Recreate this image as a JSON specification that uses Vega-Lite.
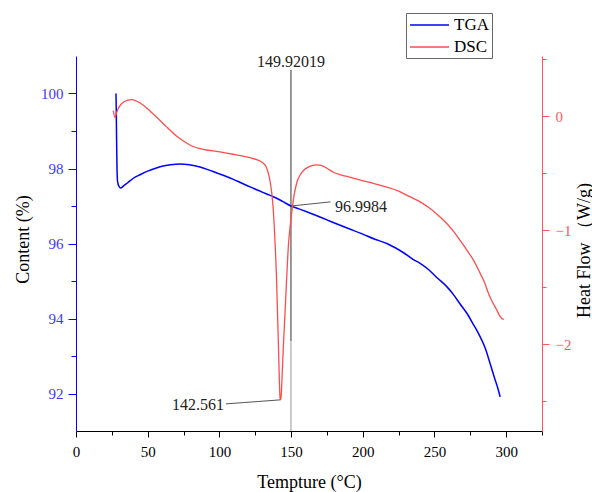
{
  "$schema": "https://vega.github.io/schema/vega-lite/v6.json",
  "width": 466,
  "height": 375,
  "autosize": {"type": "none"},
  "padding": {"left": 76, "top": 56, "right": 50, "bottom": 61},
  "background": "white",
  "config": {
    "font": "Liberation Serif",
    "view": {"stroke": null},
    "axis": {"labelFont": "Liberation Serif", "titleFont": "Liberation Serif", "titleFontWeight": "normal", "grid": false, "labelFontSize": 15, "titleFontSize": 18, "titleColor": "#000", "labelFlush": false}
  },
  "layer": [
    {
      "resolve": {"axis": {"x": "independent", "y": "independent"}},
      "layer": [
        {
          "data": {"values": [
            {"series": "TGA", "t": 27.9, "v": 100.0},
            {"series": "TGA", "t": 28.1, "v": 99.5},
            {"series": "TGA", "t": 28.3, "v": 98.8},
            {"series": "TGA", "t": 28.6, "v": 98.0},
            {"series": "TGA", "t": 29.0, "v": 97.65},
            {"series": "TGA", "t": 30.0, "v": 97.52},
            {"series": "TGA", "t": 31.2, "v": 97.48},
            {"series": "TGA", "t": 33.0, "v": 97.53},
            {"series": "TGA", "t": 36.0, "v": 97.62},
            {"series": "TGA", "t": 40.0, "v": 97.74},
            {"series": "TGA", "t": 45.0, "v": 97.84},
            {"series": "TGA", "t": 50.0, "v": 97.93},
            {"series": "TGA", "t": 55.0, "v": 98.0},
            {"series": "TGA", "t": 60.0, "v": 98.06},
            {"series": "TGA", "t": 66.0, "v": 98.1},
            {"series": "TGA", "t": 72.6, "v": 98.12},
            {"series": "TGA", "t": 79.0, "v": 98.1},
            {"series": "TGA", "t": 86.5, "v": 98.04},
            {"series": "TGA", "t": 92.0, "v": 97.97},
            {"series": "TGA", "t": 98.2, "v": 97.88},
            {"series": "TGA", "t": 104.0, "v": 97.8},
            {"series": "TGA", "t": 109.8, "v": 97.71},
            {"series": "TGA", "t": 115.0, "v": 97.62},
            {"series": "TGA", "t": 121.4, "v": 97.51},
            {"series": "TGA", "t": 127.0, "v": 97.42},
            {"series": "TGA", "t": 133.0, "v": 97.32},
            {"series": "TGA", "t": 138.0, "v": 97.24},
            {"series": "TGA", "t": 142.3, "v": 97.16},
            {"series": "TGA", "t": 146.0, "v": 97.08},
            {"series": "TGA", "t": 149.92, "v": 97.0},
            {"series": "TGA", "t": 155.0, "v": 96.93},
            {"series": "TGA", "t": 160.0, "v": 96.86},
            {"series": "TGA", "t": 168.0, "v": 96.74},
            {"series": "TGA", "t": 175.0, "v": 96.63},
            {"series": "TGA", "t": 182.0, "v": 96.52},
            {"series": "TGA", "t": 190.0, "v": 96.4},
            {"series": "TGA", "t": 200.0, "v": 96.25},
            {"series": "TGA", "t": 208.0, "v": 96.12},
            {"series": "TGA", "t": 216.8, "v": 96.0},
            {"series": "TGA", "t": 222.0, "v": 95.9},
            {"series": "TGA", "t": 229.0, "v": 95.74},
            {"series": "TGA", "t": 235.3, "v": 95.57},
            {"series": "TGA", "t": 240.0, "v": 95.47},
            {"series": "TGA", "t": 246.0, "v": 95.3},
            {"series": "TGA", "t": 252.0, "v": 95.08},
            {"series": "TGA", "t": 258.6, "v": 94.85},
            {"series": "TGA", "t": 263.0, "v": 94.65},
            {"series": "TGA", "t": 268.0, "v": 94.38},
            {"series": "TGA", "t": 272.6, "v": 94.14},
            {"series": "TGA", "t": 277.0, "v": 93.85},
            {"series": "TGA", "t": 281.9, "v": 93.51},
            {"series": "TGA", "t": 285.5, "v": 93.2},
            {"series": "TGA", "t": 288.8, "v": 92.8},
            {"series": "TGA", "t": 292.0, "v": 92.4},
            {"series": "TGA", "t": 294.5, "v": 92.1},
            {"series": "TGA", "t": 295.8, "v": 91.91}
          ]},
          "mark": {"type": "line", "strokeWidth": 1.5, "interpolate": "monotone"},
          "encoding": {
            "x": {"field": "t", "type": "quantitative", "scale": {"domain": [0, 325], "nice": false, "zero": false},
              "axis": {"orient": "bottom", "title": "Tempture (°C)", "values": [0, 50, 100, 150, 200, 250, 300],
                "tickSize": 6, "domainColor": "#000", "tickColor": "#000", "labelColor": "#000", "labelPadding": 7,
                "titleBaseline": "alphabetic", "titleY": 56}},
            "y": {"field": "v", "type": "quantitative", "scale": {"domain": [91, 101], "nice": false, "zero": false},
              "axis": {"orient": "left", "title": "Content (%)", "values": [92, 94, 96, 98, 100],
                "tickSize": 8, "domainColor": "#0000ff", "tickColor": "#0000ff", "labelColor": "#3a3aff", "labelPadding": 5,
                "titleX": -53, "titleY": 183, "titleBaseline": "middle"}},
            "color": {"field": "series", "type": "nominal",
              "scale": {"domain": ["TGA", "DSC"], "range": ["#0000ff", "#ff4d4d"]},
              "legend": {"orient": "none", "legendX": 330, "legendY": -43, "title": null, "symbolType": "M-1,0L3.875,0", "symbolSize": 256, "symbolStrokeWidth": 1.5,
                "labelFont": "Liberation Serif", "labelFontSize": 17, "labelColor": "#000", "labelOffset": 27, "strokeColor": "#666", "fillColor": "white", "padding": 3, "rowPadding": 5}}
          }
        },
        {
          "data": {"values": [{"t": 100, "v": 96}]},
          "mark": {"type": "point", "opacity": 0},
          "encoding": {
            "x": {"field": "t", "type": "quantitative",
              "axis": {"orient": "bottom", "title": null, "values": [25, 75, 125, 175, 225, 275, 325], "labels": false, "domain": false, "tickSize": 4, "tickColor": "#000"}},
            "y": {"field": "v", "type": "quantitative",
              "axis": {"orient": "left", "title": null, "values": [93, 95, 97, 99], "labels": false, "domain": false, "tickSize": 5, "tickColor": "#0000ff"}}
          }
        },
        {
          "data": {"values": [{"t": 149.92, "top": 100.63, "bottom": 93.4}]},
          "mark": {"type": "rule", "color": "#333", "strokeWidth": 1},
          "encoding": {
            "x": {"field": "t", "type": "quantitative", "axis": null},
            "y": {"field": "top", "type": "quantitative", "axis": null},
            "y2": {"field": "bottom"}
          }
        },
        {
          "data": {"values": [{"t": 149.92, "top": 93.4, "bottom": 91.0}]},
          "mark": {"type": "rule", "color": "#999", "strokeWidth": 1},
          "encoding": {
            "x": {"field": "t", "type": "quantitative", "axis": null},
            "y": {"field": "top", "type": "quantitative", "axis": null},
            "y2": {"field": "bottom"}
          }
        },
        {
          "data": {"values": [{"t1": 149.92, "v1": 97.0, "t2": 177.5, "v2": 97.11}]},
          "mark": {"type": "rule", "color": "#555", "strokeWidth": 1},
          "encoding": {
            "x": {"field": "t1", "type": "quantitative", "axis": null},
            "y": {"field": "v1", "type": "quantitative", "axis": null},
            "x2": {"field": "t2"},
            "y2": {"field": "v2"}
          }
        },
        {
          "data": {"values": [{"t": 149.92, "v": 100.7, "label": "149.92019"}]},
          "mark": {"type": "text", "align": "center", "baseline": "alphabetic", "fontSize": 16, "font": "Liberation Serif", "color": "#222"},
          "encoding": {
            "x": {"field": "t", "type": "quantitative", "axis": null},
            "y": {"field": "v", "type": "quantitative", "axis": null},
            "text": {"field": "label"}
          }
        },
        {
          "data": {"values": [{"t": 180.7, "v": 96.85, "label": "96.9984"}]},
          "mark": {"type": "text", "align": "left", "baseline": "alphabetic", "fontSize": 16, "font": "Liberation Serif", "color": "#222"},
          "encoding": {
            "x": {"field": "t", "type": "quantitative", "axis": null},
            "y": {"field": "v", "type": "quantitative", "axis": null},
            "text": {"field": "label"}
          }
        }
      ]
    },
    {
      "resolve": {"axis": {"y": "independent"}},
      "layer": [
        {
          "data": {"values": [
            {"series": "DSC", "t": 26.0, "v": 0.05},
            {"series": "DSC", "t": 27.2, "v": -0.01},
            {"series": "DSC", "t": 28.2, "v": 0.03},
            {"series": "DSC", "t": 29.5, "v": 0.07},
            {"series": "DSC", "t": 31.0, "v": 0.1},
            {"series": "DSC", "t": 33.0, "v": 0.125},
            {"series": "DSC", "t": 36.0, "v": 0.142},
            {"series": "DSC", "t": 38.9, "v": 0.148},
            {"series": "DSC", "t": 42.0, "v": 0.135},
            {"series": "DSC", "t": 47.0, "v": 0.098},
            {"series": "DSC", "t": 51.6, "v": 0.048},
            {"series": "DSC", "t": 57.4, "v": -0.02},
            {"series": "DSC", "t": 63.3, "v": -0.094},
            {"series": "DSC", "t": 69.0, "v": -0.16},
            {"series": "DSC", "t": 74.9, "v": -0.215},
            {"series": "DSC", "t": 80.0, "v": -0.255},
            {"series": "DSC", "t": 86.5, "v": -0.283},
            {"series": "DSC", "t": 92.0, "v": -0.297},
            {"series": "DSC", "t": 98.2, "v": -0.307},
            {"series": "DSC", "t": 104.0, "v": -0.319},
            {"series": "DSC", "t": 109.8, "v": -0.332},
            {"series": "DSC", "t": 116.0, "v": -0.347},
            {"series": "DSC", "t": 121.4, "v": -0.362},
            {"series": "DSC", "t": 126.0, "v": -0.38},
            {"series": "DSC", "t": 130.0, "v": -0.405},
            {"series": "DSC", "t": 132.5, "v": -0.44},
            {"series": "DSC", "t": 134.2, "v": -0.502},
            {"series": "DSC", "t": 135.5, "v": -0.58},
            {"series": "DSC", "t": 136.5, "v": -0.67},
            {"series": "DSC", "t": 137.7, "v": -0.84},
            {"series": "DSC", "t": 138.8, "v": -1.1},
            {"series": "DSC", "t": 139.8, "v": -1.4},
            {"series": "DSC", "t": 140.6, "v": -1.75},
            {"series": "DSC", "t": 141.2, "v": -2.02},
            {"series": "DSC", "t": 141.8, "v": -2.3},
            {"series": "DSC", "t": 142.3, "v": -2.47},
            {"series": "DSC", "t": 142.56, "v": -2.487},
            {"series": "DSC", "t": 143.0, "v": -2.47},
            {"series": "DSC", "t": 143.5, "v": -2.35},
            {"series": "DSC", "t": 144.5, "v": -2.05},
            {"series": "DSC", "t": 145.8, "v": -1.72},
            {"series": "DSC", "t": 147.0, "v": -1.4},
            {"series": "DSC", "t": 148.1, "v": -1.14},
            {"series": "DSC", "t": 149.3, "v": -0.97},
            {"series": "DSC", "t": 150.5, "v": -0.84},
            {"series": "DSC", "t": 152.0, "v": -0.7},
            {"series": "DSC", "t": 154.0, "v": -0.58},
            {"series": "DSC", "t": 156.5, "v": -0.51},
            {"series": "DSC", "t": 159.0, "v": -0.47},
            {"series": "DSC", "t": 162.0, "v": -0.445},
            {"series": "DSC", "t": 165.0, "v": -0.43},
            {"series": "DSC", "t": 168.0, "v": -0.425},
            {"series": "DSC", "t": 171.0, "v": -0.43},
            {"series": "DSC", "t": 175.0, "v": -0.455},
            {"series": "DSC", "t": 179.5, "v": -0.49},
            {"series": "DSC", "t": 185.0, "v": -0.515},
            {"series": "DSC", "t": 190.0, "v": -0.53},
            {"series": "DSC", "t": 196.0, "v": -0.55},
            {"series": "DSC", "t": 202.0, "v": -0.57},
            {"series": "DSC", "t": 208.0, "v": -0.59},
            {"series": "DSC", "t": 216.8, "v": -0.62},
            {"series": "DSC", "t": 225.0, "v": -0.655},
            {"series": "DSC", "t": 232.0, "v": -0.7},
            {"series": "DSC", "t": 240.0, "v": -0.75},
            {"series": "DSC", "t": 246.0, "v": -0.8},
            {"series": "DSC", "t": 252.0, "v": -0.86},
            {"series": "DSC", "t": 258.6, "v": -0.94},
            {"series": "DSC", "t": 264.0, "v": -1.02},
            {"series": "DSC", "t": 268.0, "v": -1.09},
            {"series": "DSC", "t": 272.6, "v": -1.173},
            {"series": "DSC", "t": 277.2, "v": -1.261},
            {"series": "DSC", "t": 281.9, "v": -1.377},
            {"series": "DSC", "t": 285.0, "v": -1.46},
            {"series": "DSC", "t": 287.7, "v": -1.553},
            {"series": "DSC", "t": 290.5, "v": -1.63},
            {"series": "DSC", "t": 293.5, "v": -1.699},
            {"series": "DSC", "t": 295.5, "v": -1.75},
            {"series": "DSC", "t": 297.0, "v": -1.772},
            {"series": "DSC", "t": 298.6, "v": -1.78}
          ]},
          "mark": {"type": "line", "strokeWidth": 1.3, "interpolate": "monotone"},
          "encoding": {
            "x": {"field": "t", "type": "quantitative", "axis": null},
            "y": {"field": "v", "type": "quantitative", "scale": {"domain": [-2.76, 0.53], "nice": false, "zero": false},
              "axis": {"orient": "right", "title": "Heat Flow （W/g)", "values": [-2, -1, 0],
                "tickSize": 7, "domainColor": "#ff5555", "tickColor": "#ff5555", "labelColor": "#f06060", "labelPadding": 6,
                "titleAngle": 270, "titleX": 42, "titleY": 194, "titleBaseline": "middle"}},
            "color": {"field": "series", "type": "nominal"}
          }
        },
        {
          "data": {"values": [{"t": 100, "v": -1}]},
          "mark": {"type": "point", "opacity": 0},
          "encoding": {
            "x": {"field": "t", "type": "quantitative", "axis": null},
            "y": {"field": "v", "type": "quantitative",
              "axis": {"orient": "right", "title": null, "values": [-2.5, -1.5, -0.5, 0.5], "labels": false, "domain": false, "tickSize": 4, "tickColor": "#ff5555"}}
          }
        },
        {
          "data": {"values": [{"t1": 104.65, "v1": -2.522, "t2": 142.3, "v2": -2.487}]},
          "mark": {"type": "rule", "color": "#555", "strokeWidth": 1},
          "encoding": {
            "x": {"field": "t1", "type": "quantitative", "axis": null},
            "y": {"field": "v1", "type": "quantitative", "axis": null},
            "x2": {"field": "t2"},
            "y2": {"field": "v2"}
          }
        },
        {
          "data": {"values": [{"t": 103.3, "v": -2.574, "label": "142.561"}]},
          "mark": {"type": "text", "align": "right", "baseline": "alphabetic", "fontSize": 16, "font": "Liberation Serif", "color": "#222"},
          "encoding": {
            "x": {"field": "t", "type": "quantitative", "axis": null},
            "y": {"field": "v", "type": "quantitative", "axis": null},
            "text": {"field": "label"}
          }
        }
      ]
    }
  ],
  "resolve": {"scale": {"y": "independent"}, "axis": {"y": "independent"}}
}
